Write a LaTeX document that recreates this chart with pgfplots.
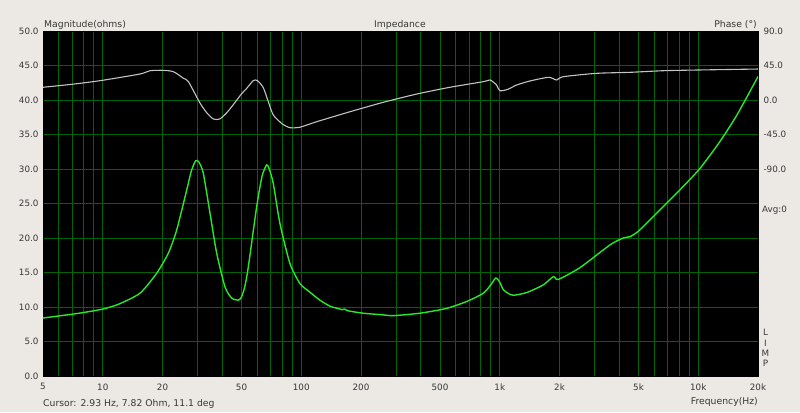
\documentclass[border=0pt]{standalone}
\usepackage{fontspec}
\setmainfont{DejaVu Sans}
\usepackage{pgfplots}
\pgfplotsset{compat=1.18}

\definecolor{bgc}{RGB}{236,233,229}
\definecolor{gridc}{RGB}{0,100,0}
\definecolor{magc}{RGB}{40,232,40}
\definecolor{phc}{RGB}{195,195,195}
\definecolor{txt}{RGB}{55,55,55}

\begin{document}
\begin{tikzpicture}[x=1bp,y=1bp,font=\fontsize{9.3}{11}\selectfont]
\fill[bgc] (0,0) rectangle (800,412);

% magnitude, left axis
\begin{axis}[
    name=main,
    at={(43bp,36bp)}, anchor=south west,
    scale only axis, width=715bp, height=345bp,
    xmode=log, xmin=5, xmax=20000,
    ymin=0, ymax=50,
    axis background/.style={fill=black},
    axis line style={draw=black},
    xtick={5,10,20,50,100,200,500,1000,2000,5000,10000,20000},
    xticklabels={5,10,20,50,100,200,500,1k,2k,5k,10k,20k},
    minor xtick={6,7,8,9,30,40,60,70,80,90,300,400,600,700,800,900,3000,4000,6000,7000,8000,9000},
    ytick={0,5,...,50},
    xmajorgrids=true, xminorgrids=true, ymajorgrids=true,
    major grid style={draw=gridc, line width=0.9bp},
    minor grid style={draw=gridc, line width=0.9bp},
    major tick length=0pt, minor tick length=0pt,
    tick style={draw=none},
    ticklabel style={text=txt, font=\fontsize{8.8}{11}\selectfont},
    /pgf/number format/assume math mode=true,
    yticklabel style={xshift=-1bp, /pgf/number format/fixed,
        /pgf/number format/fixed zerofill, /pgf/number format/precision=1},
    xticklabel style={yshift=-4bp},
]
\addplot[magc, line width=1.4bp, smooth, tension=0.4] coordinates {
(5,8.4) (6,8.7) (7,8.95) (8,9.2) (10,9.7) (12,10.4) (15.4,12.0) (18.7,14.9)
(21.4,17.8) (23.6,21.2) (26.5,27.0) (28,29.8) (29.4,31.2) (30.5,31.0)
(32.1,29.4) (34.7,23.6) (37.5,17.8) (41.3,12.9) (44.6,11.3) (48.2,11.0)
(50.1,11.5) (52,13.0) (54.1,15.8) (59.6,24.5) (63.5,29.0) (67.0,30.6)
(69,30.0) (72.3,27.9) (78.1,22.1) (87.7,16.3) (98.5,13.4) (110,12.2)
(124,11.0) (140,10.1) (155,9.75) (160,9.6) (165,9.7) (172,9.45) (205,9.1)
(250,8.9) (291,8.75) (396,9.1) (540,9.8) (682,10.8) (826,12.0) (900,13.2)
(955,14.2) (1000,13.6) (1042,12.5) (1100,12.0) (1170,11.7) (1368,12.1)
(1656,13.2) (1862,14.4) (1972,14.0) (2534,15.7) (3591,19.0) (4188,20.0)
(4527,20.2) (5000,21.0) (6176,23.6) (8098,27.0) (10210,30.1) (12870,34.0)
(15640,37.8) (20000,43.4)
};
\end{axis}

% phase, right axis
\begin{axis}[
    at={(43bp,36bp)}, anchor=south west,
    scale only axis, width=715bp, height=345bp,
    xmode=log, xmin=5, xmax=20000,
    ymin=-360, ymax=90,
    axis x line=none,
    xtick=\empty,
    axis y line*=right,
    axis line style={draw=none},
    ytick={-90,-45,0,45,90},
    major tick length=0pt,
    tick style={draw=none},
    ticklabel style={text=txt, font=\fontsize{8.8}{11}\selectfont},
    /pgf/number format/assume math mode=true,
    yticklabel style={xshift=2bp, /pgf/number format/fixed,
        /pgf/number format/fixed zerofill, /pgf/number format/precision=1},
]
\addplot[phc, line width=1.1bp, smooth, tension=0.4] coordinates {
(5,16.6) (7,20.5) (9.69,25.2) (15.4,33.9) (17.3,38.2) (20.2,38.7) (22.7,36.9)
(25.5,28.3) (27,24) (30.9,-4) (33.5,-17) (36.1,-24.8) (38.8,-24.8) (42,-17)
(45.5,-6) (50,8) (53.1,15.2) (57.3,25.2) (60,25.5) (64.4,16) (69.6,-8.7)
(72.3,-19.6) (80,-31) (87.7,-36.1) (98.5,-35.5) (119.6,-28.3) (176,-15.3)
(259,-3) (382,7.8) (561,16.6) (826,23.9) (893,26.1) (960,20) (1003,12.1)
(1100,14) (1216,19.6) (1420,24.8) (1760,29.6) (1934,26.1) (2088,30.4)
(3078,34.8) (4527,36.1) (6670,38.2) (9820,39.1) (20000,40.4)
};
\end{axis}

\node[anchor=base west, inner sep=0, text=txt] at (44,385) {Magnitude(ohms)};
\node[anchor=base, inner sep=0, text=txt] at (400,385) {Impedance};
\node[anchor=base east, inner sep=0, text=txt] at (757,385) {Phase (°)};
\node[anchor=base west, inner sep=0, text=txt, font=\fontsize{8.8}{11}\selectfont] at (762,200) {Avg:0};
\node[anchor=north, inner sep=0, align=center, text=txt,
      font=\fontsize{8.8}{10.5}\selectfont] at (765.5,83) {L\\I\\M\\P};
\node[anchor=base west, inner sep=0, text=txt] at (43,6) {Cursor: 2.93 Hz, 7.82 Ohm, 11.1 deg};
\node[anchor=base east, inner sep=0, text=txt] at (758,8) {Frequency(Hz)};
\end{tikzpicture}
\end{document}
